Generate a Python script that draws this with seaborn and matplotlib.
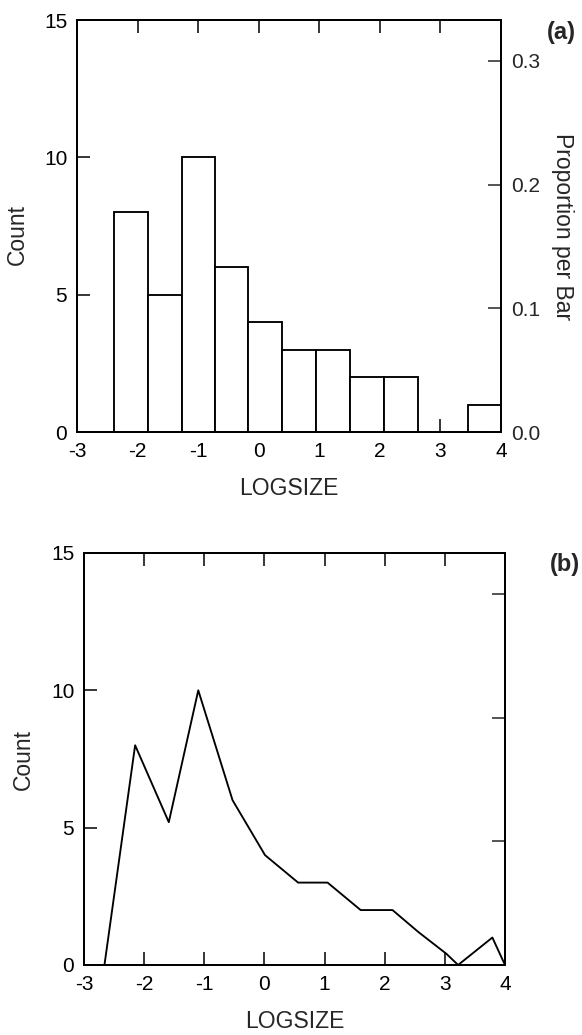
import numpy as np
import pandas as pd
import matplotlib
matplotlib.use("Agg")
import matplotlib.pyplot as plt
import seaborn as sns

# ---- data ----
# (a) histogram of LOGSIZE
bin_edges = [-2.39, -1.83, -1.27, -0.72, -0.17, 0.39, 0.94, 1.50, 2.07, 2.63, 3.45, 4.00]
bar_counts = [8, 5, 10, 6, 4, 3, 3, 2, 2, 0, 1]
prop_max = 0.333            # right axis top (proportion per bar at Count = 15)
prop_ticks = [0.0, 0.1, 0.2, 0.3]

# (b) frequency polygon
poly_x = [-2.66, -2.15, -1.59, -1.10, -0.53, 0.01, 0.56, 1.05, 1.60, 2.13, 2.56, 3.03, 3.22, 3.79, 4.00]
poly_y = [0, 8, 5.2, 10, 6, 4, 3, 3, 2, 2, 1.2, 0.4, 0, 1, 0]

x_ticks = [-3, -2, -1, 0, 1, 2, 3, 4]
count_ticks = [0, 5, 10, 15]

sns.set_style("ticks")
plt.rcParams["font.family"] = ["Liberation Sans", "DejaVu Sans"]
plt.rcParams["axes.linewidth"] = 1.3

TICK_FS = 15
LAB_FS = 16.5
LW = 1.35

fig = plt.figure(figsize=(5.82, 10.35), dpi=100)
W, H = 582, 1035

def add_axes(l, r, t, b):
    return fig.add_axes([l / W, 1 - b / H, (r - l) / W, (b - t) / H])

def style_main(ax):
    ax.set_xlim(-3, 4)
    ax.set_ylim(0, 15)
    ax.set_xticks(x_ticks)
    ax.set_xticklabels([str(v) for v in x_ticks])
    ax.set_yticks(count_ticks)
    ax.set_yticklabels([str(v) for v in count_ticks])
    ax.tick_params(axis="both", direction="in", length=9.5, width=1.1,
                   labelsize=TICK_FS, colors="black", pad=7)
    ax.tick_params(axis="x", top=True, labeltop=False, pad=7)
    ax.tick_params(axis="y", left=True, right=False)
    for s in ax.spines.values():
        s.set_visible(True)
        s.set_color("black")
        s.set_linewidth(LW)
    ax.set_xlabel("LOGSIZE", fontsize=LAB_FS)
    ax.set_ylabel("Count", fontsize=LAB_FS)
    ax.xaxis.label.set_va("center")
    ax.yaxis.label.set_va("center")

def style_twin(tw, labels=True):
    tw.set_ylim(0, prop_max)
    tw.set_yticks(prop_ticks)
    tw.set_yticklabels([f"{v:.1f}" for v in prop_ticks] if labels else [])
    tw.tick_params(axis="y", direction="in", length=9.5, width=1.1,
                   labelsize=TICK_FS, pad=7, right=True)
    for s in tw.spines.values():
        s.set_visible(True)
        s.set_color("black")
        s.set_linewidth(LW)

# ---------- (a) ----------
axa = add_axes(77, 501, 20, 432)
mids = [(bin_edges[i] + bin_edges[i + 1]) / 2 for i in range(len(bar_counts))]
dfa = pd.DataFrame({"LOGSIZE": mids, "n": bar_counts})
sns.histplot(data=dfa, x="LOGSIZE", weights="n", bins=bin_edges, ax=axa,
             fill=True, color="white", edgecolor="black", linewidth=LW, alpha=1)
style_main(axa)
axa.xaxis.set_label_coords(0.5, -0.138)
axa.yaxis.set_label_coords(-0.1415, 0.48)
twa = axa.twinx()
style_twin(twa, labels=True)
twa.set_ylabel("Proportion per Bar", fontsize=LAB_FS, rotation=270,
               va="center", ha="center")
twa.yaxis.set_label_coords(1.144, 0.4976)
fig.text(561 / W, 1 - 32 / H, "(a)", fontsize=17, fontweight="bold",
         ha="center", va="center")

# ---------- (b) ----------
axb = add_axes(84, 505, 553, 965)
dfb = pd.DataFrame({"LOGSIZE": poly_x, "Count": poly_y})
sns.lineplot(data=dfb, x="LOGSIZE", y="Count", sort=False, ax=axb,
             color="black", linewidth=LW, estimator=None)
style_main(axb)
axb.xaxis.set_label_coords(0.5, -0.136)
axb.yaxis.set_label_coords(-0.145, 0.5)
twb = axb.twinx()
style_twin(twb, labels=False)
fig.text(565 / W, 1 - 565 / H, "(b)", fontsize=17, fontweight="bold",
         ha="center", va="center")

fig.savefig("out.png", dpi=100, facecolor="white")
